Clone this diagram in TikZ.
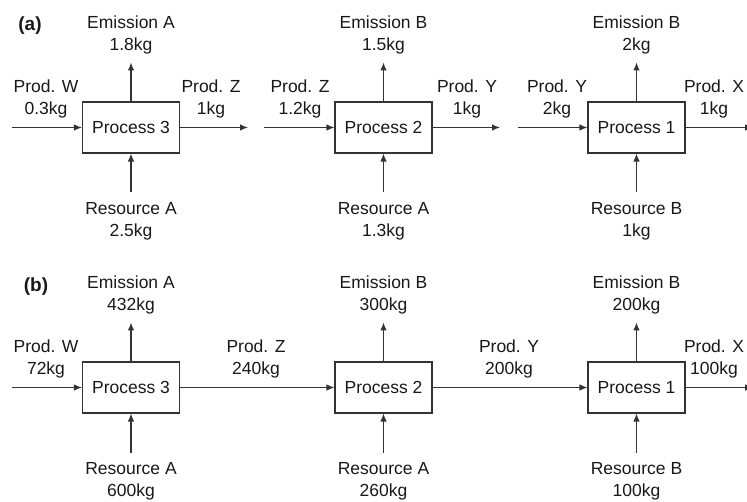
\documentclass[tikz,border=0pt]{standalone}
\usepackage{fontspec}
\setmainfont{Liberation Sans}
\usetikzlibrary{arrows.meta}
\begin{document}
\begin{tikzpicture}[x=1pt,y=-1pt,
  proc/.style={draw=black!80,line width=1.1pt,minimum width=97pt,minimum height=51pt,inner sep=0pt,font=\fontsize{17.5}{21.5}\selectfont,text=black!90},
  lbl/.style={align=center,inner sep=0pt,font=\fontsize{17.5}{21.5}\selectfont,text=black!90},
  tag/.style={inner sep=0pt,font=\fontsize{19}{22}\selectfont\bfseries,text=black!90},
  flow/.style={draw=black!80,line width=1.1pt,-{Latex[length=8pt,width=6.5pt]}}]
\clip (0,0) rectangle (747,502);
\fill[white] (0,0) rectangle (747,502);
\foreach \p/\dy/\nW/\nZa/\nZb/\eA/\rA/\eB/\rAb/\nYa/\nYb/\eC/\rB/\nX in {
  a/0/0.3kg/1kg/1.2kg/1.8kg/2.5kg/1.5kg/1.3kg/1kg/2kg/2kg/1kg/1kg,
  b/260/72kg/240kg/240kg/432kg/600kg/300kg/260kg/200kg/200kg/200kg/100kg/100kg}{
  \node[proc] (P3\p) at (131,127.5+\dy) {Process 3};
  \node[proc] (P2\p) at (383.5,127.5+\dy) {Process 2};
  \node[proc] (P1\p) at (636.5,127.5+\dy) {Process 1};
  \coordinate (W\p) at (12,127.5+\dy);
  \coordinate (X\p) at (753,127.5+\dy);
  \foreach \q/\x in {3/131,2/383.5,1/636.5}{
    \coordinate (U\q\p) at (\x,62.5+\dy);
    \coordinate (D\q\p) at (\x,192.5+\dy);
    \draw[flow] (P\q\p.north) -- (U\q\p);
    \draw[flow] (D\q\p) -- (P\q\p.south);
  }
  \draw[flow] (W\p) -- (P3\p.west);
  \draw[flow] (P1\p.east) -- (X\p);
  \node[lbl] (LW\p) at (46,99+\dy) {Prod. W\\\nW};
  \node[lbl] (LX\p) at (714,99+\dy) {Prod. X\\\nX};
  \node[lbl] (E3\p) at (131,35+\dy) {Emission A\\\eA};
  \node[lbl] (R3\p) at (131,221.5+\dy) {Resource A\\\rA};
  \node[lbl] (E2\p) at (383.5,35+\dy) {Emission B\\\eB};
  \node[lbl] (R2\p) at (383.5,221.5+\dy) {Resource A\\\rAb};
  \node[lbl] (E1\p) at (636.5,35+\dy) {Emission B\\\eC};
  \node[lbl] (R1\p) at (636.5,221.5+\dy) {Resource B\\\rB};
}
% panel (a): separate flows
\coordinate (Za1) at (248,127.5);
\coordinate (Za2) at (264,127.5);
\coordinate (Ya1) at (500,127.5);
\coordinate (Ya2) at (518,127.5);
\draw[flow] (P3a.east) -- (Za1);
\draw[flow] (Za2) -- (P2a.west);
\draw[flow] (P2a.east) -- (Ya1);
\draw[flow] (Ya2) -- (P1a.west);
\node[lbl] (LZa1) at (211,99) {Prod. Z\\1kg};
\node[lbl] (LZa2) at (300,99) {Prod. Z\\1.2kg};
\node[lbl] (LYa1) at (467,99) {Prod. Y\\1kg};
\node[lbl] (LYa2) at (557,99) {Prod. Y\\2kg};
% panel (b): connected flows
\draw[flow] (P3b.east) -- (P2b.west);
\draw[flow] (P2b.east) -- (P1b.west);
\node[lbl] (LZb) at (256,359) {Prod. Z\\240kg};
\node[lbl] (LYb) at (509,359) {Prod. Y\\200kg};
\node[tag] (ta) at (30,26) {(a)};
\node[tag] (tb) at (36,287) {(b)};
\end{tikzpicture}
\end{document}
